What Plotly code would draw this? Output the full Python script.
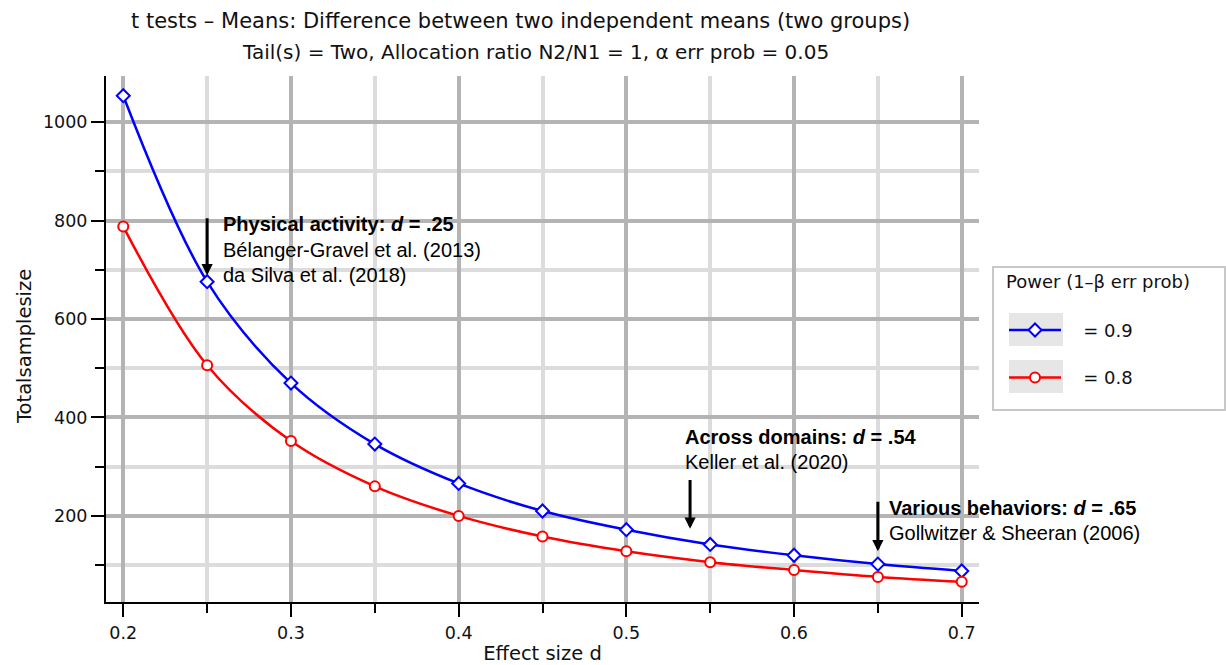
import plotly.graph_objects as go

# ---------------- data ----------------
effect_size = [0.2, 0.25, 0.3, 0.35, 0.4, 0.45, 0.5, 0.55, 0.6, 0.65, 0.7]
n_power_090 = [1054, 676, 470, 346, 266, 210, 172, 142, 120, 102, 88]
n_power_080 = [788, 506, 352, 260, 200, 158, 128, 106, 90, 76, 66]
series_names = ["= 0.9", "= 0.8"]

x_tick_vals = [0.2, 0.3, 0.4, 0.5, 0.6, 0.7]
y_tick_vals = [200, 400, 600, 800, 1000]

note_d = [0.25, 0.538, 0.65]
arrow_tail = [808, 276, 232]
arrow_head = [689, 174, 128]
note_titles = ["<b>Physical activity: <i>d</i> = .25</b>",
               "<b>Across domains: <i>d</i> = .54</b>",
               "<b>Various behaviors: <i>d</i> = .65</b>"]
note_refs = [["Bélanger-Gravel et al. (2013)", "da Silva et al. (2018)"],
             ["Keller et al. (2020)"],
             ["Gollwitzer & Sheeran (2006)"]]

title_line1 = "t tests – Means: Difference between two independent means (two groups)"
title_line2 = "Tail(s) = Two, Allocation ratio N2/N1 = 1, α err prob = 0.05"
legend_title = "Power (1–β err prob)"

# ---------------- layout geometry (px) ----------------
W, H = 1226, 665
L, R, T, B = 106, 979, 76, 602
Y_RANGE = [25, 1094]
FONT = "DejaVu Sans"
NOTE_FONT = "Liberation Sans, Arial"


def px_x(p):
    return (p - L) / (R - L)


def px_y(p):
    return (B - p) / (B - T)


def px_to_val(p):
    return Y_RANGE[0] + (B - p) / (B - T) * (Y_RANGE[1] - Y_RANGE[0])


fig = go.Figure()
fig.add_trace(go.Scatter(
    x=effect_size, y=n_power_090, name="\u00a0\u00a0\u00a0" + series_names[0],
    mode="lines+markers",
    line=dict(color="#0000ff", width=2.5, shape="spline"),
    marker=dict(symbol="diamond", size=10, color="white",
                line=dict(color="#0000ff", width=2)),
    legendgroup="a"))
fig.add_trace(go.Scatter(
    x=effect_size, y=n_power_080, name="\u00a0\u00a0\u00a0" + series_names[1],
    mode="lines+markers",
    line=dict(color="#ff0000", width=2.5, shape="spline"),
    marker=dict(symbol="circle", size=10, color="white",
                line=dict(color="#ff0000", width=2)),
    legendgroup="b"))

annotations = []
# titles
annotations.append(dict(text=title_line1, xref="paper", yref="paper",
                        x=px_x(520), y=px_y(21), showarrow=False,
                        xanchor="center", yanchor="middle",
                        font=dict(family=FONT, size=21, color="#111")))
annotations.append(dict(text=title_line2, xref="paper", yref="paper",
                        x=px_x(535), y=px_y(52), showarrow=False,
                        xanchor="center", yanchor="middle",
                        font=dict(family=FONT, size=20, color="#111")))
# y-axis title
annotations.append(dict(text="Totalsamplesize", xref="paper", yref="paper",
                        x=px_x(24), y=px_y(347), showarrow=False, textangle=-90,
                        xanchor="center", yanchor="middle",
                        font=dict(family=FONT, size=19.5, color="#111")))

# arrows + notes (text rows in px)
note_shift = [14, -7, 9]
note_rows = [[224, 250, 275], [437, 462], [508, 533]]
for i in range(len(note_d)):
    annotations.append(dict(x=note_d[i], y=arrow_head[i], ax=note_d[i], ay=arrow_tail[i],
                            xref="x", yref="y", axref="x", ayref="y", text="",
                            showarrow=True, arrowhead=2, arrowsize=0.75,
                            arrowwidth=3, arrowcolor="black"))
    texts = [note_titles[i]] + note_refs[i]
    for j, txt in enumerate(texts):
        annotations.append(dict(x=note_d[i], y=px_to_val(note_rows[i][j]),
                                xref="x", yref="y", xshift=note_shift[i], text=txt,
                                showarrow=False, xanchor="left", yanchor="middle",
                                font=dict(family=NOTE_FONT, size=20, color="black")))

shapes = [
    dict(type="rect", xref="paper", yref="paper", x0=px_x(993), x1=px_x(1225),
         y0=px_y(410), y1=px_y(267), line=dict(color="#c8c8c8", width=2),
         fillcolor="white", layer="below"),
    dict(type="rect", xref="paper", yref="paper", x0=px_x(1009), x1=px_x(1063),
         y0=px_y(346), y1=px_y(313), line=dict(width=0), fillcolor="#e6e6e6",
         layer="below"),
    dict(type="rect", xref="paper", yref="paper", x0=px_x(1009), x1=px_x(1063),
         y0=px_y(393), y1=px_y(360), line=dict(width=0), fillcolor="#e6e6e6",
         layer="below"),
]

axis_common = dict(showline=True, linecolor="black", linewidth=2,
                   ticks="outside", tickcolor="black", tickwidth=2, ticklen=13,
                   showgrid=True, gridcolor="#b4b4b4", gridwidth=3.5,
                   zeroline=False, automargin=False,
                   tickfont=dict(family=FONT, size=17.5, color="#111"))

fig.update_layout(
    width=W, height=H, autosize=False,
    margin=dict(l=L, r=W - R, t=T, b=H - B, pad=0),
    paper_bgcolor="white", plot_bgcolor="white",
    font=dict(family=FONT, size=17.5, color="#111"),
    xaxis=dict(range=[0.1897, 0.7103], tickvals=x_tick_vals,
               ticktext=[f"{v:.1f}" for v in x_tick_vals],
               ticklabelstandoff=1,
               minor=dict(dtick=0.05, tick0=0, ticks="outside", ticklen=9,
                          tickwidth=2, tickcolor="black", showgrid=True,
                          gridcolor="#dcdcdc", gridwidth=3.5),
               title=dict(text="Effect size d", font=dict(family=FONT, size=19.5),
                          standoff=15),
               **axis_common),
    yaxis=dict(range=Y_RANGE, tickvals=y_tick_vals,
               minor=dict(dtick=100, tick0=0, ticks="outside", ticklen=9,
                          tickwidth=2, tickcolor="black", showgrid=True,
                          gridcolor="#dcdcdc", gridwidth=3.5),
               **axis_common),
    showlegend=True,
    legend=dict(x=px_x(1004), y=px_y(265), xanchor="left", yanchor="top",
                bgcolor="rgba(0,0,0,0)", borderwidth=0,
                title=dict(text=legend_title + "<br> ", font=dict(family=FONT, size=18)),
                font=dict(family=FONT, size=18), itemwidth=52,
                tracegroupgap=21),
    annotations=annotations,
    shapes=shapes,
)

fig.write_html("out.html", config={"displayModeBar": False},
               post_script="document.body.style.margin='0';")
